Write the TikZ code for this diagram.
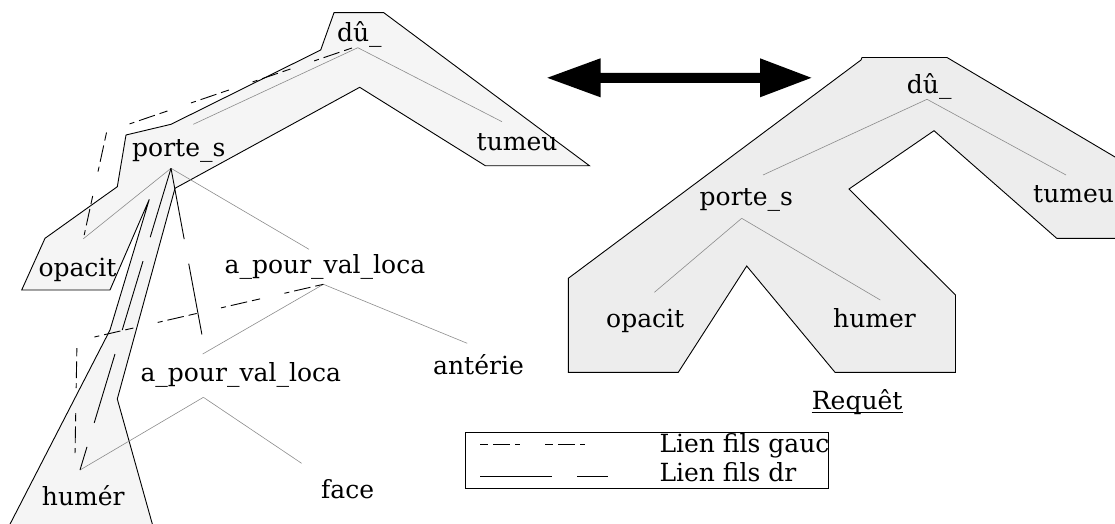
\documentclass[tikz,border=0pt]{standalone}
\usepackage{fontspec}
\setmainfont{DejaVu Serif}
\begin{document}
\begin{tikzpicture}[x=1pt,y=-1pt,
  lbl/.style={inner sep=0pt, anchor=base west, font=\fontsize{25}{30}\selectfont},
  outl/.style={draw=black, line width=0.9pt, line join=miter},
  glink/.style={draw=black!45, line width=0.6pt},
  leftlink/.style={draw=black, line width=0.9pt, dash pattern=on 8.3pt off 5pt on 16.7pt off 5pt on 5pt off 25pt},
  rightlink/.style={draw=black, line width=0.9pt, dash pattern=on 72pt off 25pt}]
\useasboundingbox (0,0) rectangle (1115,524);
\clip (0,0) rectangle (1115,524);

% ---------- left highlighted region ----------
\path[outl, fill=black!4] (334,12.7) -- (383.8,12.7) -- (589.4,165.7) -- (485.3,165.7)
  -- (359.7,87.3) -- (175,188.3) -- (117.3,399) -- (154,530) -- (7,530) -- (110,330)
  -- (149.3,199.3) -- (110,290) -- (21.7,290) -- (45,238.3) -- (117.3,186.7) -- (126,135)
  -- (171,124.3) -- (320.7,50) -- cycle;

% ---------- right highlighted region ----------
\path[outl, fill=black!7] (862,57.5) -- (947,57.5) -- (1140,171.8) -- (1140,238.3)
  -- (1056.7,238.3) -- (934,130.7) -- (849,189) -- (955.5,295) -- (955.5,372.3)
  -- (835,372.3) -- (746.7,266) -- (678.3,372.3) -- (568.3,372.3) -- (568.3,278.3)
  -- (861,60) -- cycle;

% ---------- left tree nodes ----------
\node[lbl] (Ld)  at (336.8,41.5) {dû\_};
\node[lbl] (Lp)  at (132,156)    {porte\_s};
\node[lbl] (Lt)  at (476.5,150)  {tumeu};
\node[lbl] (Lo)  at (38.3,276)   {opacit};
\node[lbl] (La1) at (224.5,273)  {a\_pour\_val\_loca};
\node[lbl] (La2) at (140.3,381)  {a\_pour\_val\_loca};
\node[lbl] (Lan) at (433,374.3)  {antérie};
\node[lbl] (Lh)  at (41.7,505)   {humér};
\node[lbl] (Lf)  at (321,498.3)  {face};

\coordinate (Ld-b)  at (357.8,47.7);
\coordinate (Ld-l)  at (352,48);
\coordinate (Lp-t)  at (193.3,124.3);
\coordinate (Lt-t)  at (502,121.7);
\coordinate (Lp-b)  at (171,168.3);
\coordinate (Lo-t)  at (83.4,238.7);
\coordinate (La1-t) at (309,249.3);
\coordinate (La1-b) at (323.4,284.3);
\coordinate (La2-t) at (202.7,354);
\coordinate (La2-r) at (202,335);
\coordinate (Lan-t) at (467.2,343.3);
\coordinate (La2-b) at (203.4,397.3);
\coordinate (Lh-t)  at (80,470);
\coordinate (Lh-l)  at (75,455);
\coordinate (Lf-t)  at (301.6,463.3);
\coordinate (bend1) at (106.7,131.7);
\coordinate (bend2) at (77,341);

% gray tree links
\draw[glink] (Ld-b) -- (Lp-t);
\draw[glink] (Ld-b) -- (Lt-t);
\draw[glink] (Lp-b) -- (Lo-t);
\draw[glink] (Lp-b) -- (La1-t);
\draw[glink] (La1-b) -- (La2-t);
\draw[glink] (La1-b) -- (Lan-t);
\draw[glink] (La2-b) -- (Lh-t);
\draw[glink] (La2-b) -- (Lf-t);

% left-child links (dash-dot)
\draw[leftlink] (Ld-l) -- (bend1) -- (Lo-t);
\draw[leftlink] (La1-b) -- (bend2) -- (Lh-l);
% right-child links (long dashes)
\draw[rightlink] (Lp-b) -- (Lh-t);
\draw[rightlink] (Lp-b) -- (La2-r);

% ---------- right tree ----------
\node[lbl] (Rd) at (906.7,93.3)  {dû\_};
\node[lbl] (Rp) at (699.5,205.7) {porte\_s};
\node[lbl] (Rt) at (1033,202)    {tumeu};
\node[lbl] (Ro) at (606,327.3)   {opacit};
\node[lbl] (Rh) at (833,327.3)   {humer};
\coordinate (Rd-b) at (927,99.3);
\coordinate (Rp-t) at (763,175);
\coordinate (Rt-t) at (1066,175);
\coordinate (Rp-b) at (741.7,218.3);
\coordinate (Ro-t) at (654.4,292.3);
\coordinate (Rh-t) at (880.3,300);
\draw[glink] (Rd-b) -- (Rp-t);
\draw[glink] (Rd-b) -- (Rt-t);
\draw[glink] (Rp-b) -- (Ro-t);
\draw[glink] (Rp-b) -- (Rh-t);

\node[lbl] (req) at (811.7,409.3) {Requêt};
\draw[line width=0.9pt] ([yshift=-3pt]req.base west) -- ([yshift=-3pt]req.base east);

% ---------- double arrow ----------
\coordinate (aL) at (547.3,77.8);
\coordinate (aR) at (811.4,77.8);
\fill[black] (aL) -- (600.5,58.3) -- (600.5,72.8) -- (760,72.8) -- (760,58.3) -- (aR)
  -- (760,97.3) -- (760,82.8) -- (600.5,82.8) -- (600.5,97.3) -- cycle;

% ---------- legend ----------
\draw[line width=0.8pt] (465.7,432.3) rectangle (828.3,488.3);
\coordinate (g1a) at (480,444);   \coordinate (g1b) at (590,444);
\coordinate (g2a) at (480,476.7); \coordinate (g2b) at (608.3,476.7);
\draw[leftlink] (g1a) -- (g1b);
\draw[rightlink] (g2a) -- (g2b);
\node[lbl] (lg1) at (659.3,452.7) {Lien fils gauc};
\node[lbl] (lg2) at (659.3,481.7) {Lien fils dr};
\end{tikzpicture}
\end{document}
